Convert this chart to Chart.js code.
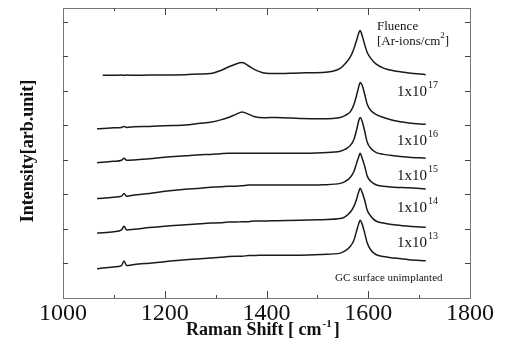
<!DOCTYPE html>
<html>
<head>
<meta charset="utf-8">
<script src="https://cdn.jsdelivr.net/npm/chart.js@4.4.1/dist/chart.umd.min.js"></script>
<style>
	html, body { margin: 0; padding: 0; background: #fff; }
	#wrap { width: 507px; height: 351px; }
</style>
</head>
<body>
<div id="wrap"><canvas id="ramanChart"></canvas></div>
<script>
// Raman shift (cm-1) sample positions shared by all spectra
const ramanShift = [1067, 1078, 1100, 1115, 1120, 1125, 1140, 1170, 1200, 1240, 1270, 1290, 1310, 1325,
	1340, 1352, 1365, 1375, 1395, 1420, 1466, 1510, 1545, 1555, 1565, 1572, 1577, 1581, 1584, 1588,
	1593, 1598, 1605, 1615, 1630, 1650, 1680, 1713];

// Stacked spectra (arb. units, already offset as in the figure)
const fluence1e17 = [null, 6.45, 6.45, 6.46, 6.45, 6.46, 6.45, 6.46, 6.46, 6.47, 6.49, 6.50, 6.59, 6.69,
	6.78, 6.82, 6.72, 6.63, 6.52, 6.50, 6.52, 6.53, 6.65, 6.79, 6.99, 7.23, 7.46, 7.66, 7.75, 7.60,
	7.34, 7.11, 6.94, 6.78, 6.66, 6.58, 6.52, 6.47];
const fluence1e16 = [4.90, 4.91, 4.93, 4.94, 4.97, 4.94, 4.96, 4.97, 4.99, 5.01, 5.06, 5.09, 5.16, 5.23,
	5.32, 5.39, 5.32, 5.26, 5.22, 5.23, 5.20, 5.19, 5.23, 5.29, 5.40, 5.61, 5.87, 6.10, 6.24, 6.16,
	5.90, 5.61, 5.43, 5.32, 5.23, 5.14, 5.07, 5.03];
const fluence1e15 = [3.92, 3.93, 3.96, 3.99, 4.05, 3.99, 4.00, 4.03, 4.08, 4.12, 4.15, 4.16, 4.18, 4.19,
	4.19, 4.19, 4.19, 4.19, 4.19, 4.19, 4.19, 4.21, 4.25, 4.31, 4.42, 4.60, 4.86, 5.12, 5.23, 5.12,
	4.83, 4.51, 4.34, 4.22, 4.16, 4.12, 4.08, 4.05];
const fluence1e14 = [2.88, 2.89, 2.92, 2.95, 3.03, 2.95, 2.98, 3.03, 3.09, 3.15, 3.18, 3.21, 3.22, 3.24,
	3.24, 3.25, 3.27, 3.27, 3.27, 3.27, 3.27, 3.28, 3.32, 3.38, 3.50, 3.67, 3.90, 4.08, 4.19, 4.05,
	3.82, 3.53, 3.38, 3.28, 3.24, 3.21, 3.19, 3.16];
const fluence1e13 = [1.88, 1.89, 1.92, 1.97, 2.08, 1.97, 1.99, 2.04, 2.08, 2.12, 2.15, 2.17, 2.18, 2.20,
	2.20, 2.21, 2.21, 2.23, 2.23, 2.24, 2.25, 2.27, 2.30, 2.36, 2.49, 2.66, 2.86, 3.06, 3.18, 3.06,
	2.83, 2.54, 2.37, 2.23, 2.17, 2.12, 2.08, 2.05];
const unimplanted = [0.85, 0.87, 0.90, 0.94, 1.07, 0.94, 0.97, 1.01, 1.05, 1.11, 1.14, 1.16, 1.18, 1.20,
	1.21, 1.21, 1.23, 1.23, 1.24, 1.24, 1.24, 1.26, 1.30, 1.37, 1.50, 1.68, 1.94, 2.14, 2.25, 2.14,
	1.88, 1.59, 1.39, 1.26, 1.20, 1.16, 1.11, 1.08];

const xTickLabels = ['1000', '1200', '1400', '1600', '1800'];
const fluenceExponents = ['17', '16', '15', '14', '13'];

const serif = '"Liberation Serif", "DejaVu Serif", serif';

function toPoints(values) {
	return ramanShift.map((x, i) => ({x: x, y: values[i]}));
}

// Frame, inward ticks and all text are drawn here through the chart's own scales
const framePlugin = {
	id: 'frame',
	afterDraw(chart) {
		const {ctx, chartArea: a, scales: {x, y}} = chart;
		ctx.save();

		ctx.strokeStyle = '#777';
		ctx.lineWidth = 1;
		ctx.strokeRect(a.left + 0.5, a.top + 0.5, a.right - a.left, a.bottom - a.top);

		// x ticks on bottom and top
		ctx.strokeStyle = '#444';
		for (let v = 1100; v < 1800; v += 100) {
			const px = Math.round(x.getPixelForValue(v)) + 0.5;
			const len = v % 200 === 0 ? 7 : 3;
			ctx.beginPath();
			ctx.moveTo(px, a.bottom);
			ctx.lineTo(px, a.bottom - len);
			ctx.moveTo(px, a.top);
			ctx.lineTo(px, a.top + len);
			ctx.stroke();
		}
		// y ticks on left and right
		for (let v = 1; v <= 8; v++) {
			const py = Math.round(y.getPixelForValue(v)) + 0.5;
			ctx.beginPath();
			ctx.moveTo(a.left, py);
			ctx.lineTo(a.left + 5, py);
			ctx.moveTo(a.right, py);
			ctx.lineTo(a.right - 5, py);
			ctx.stroke();
		}

		ctx.fillStyle = '#111';
		ctx.textAlign = 'center';
		ctx.textBaseline = 'alphabetic';
		ctx.font = '24px ' + serif;
		xTickLabels.forEach(t => {
			ctx.fillText(t, x.getPixelForValue(+t), 320);
		});

		// x axis title with superscript
		ctx.textAlign = 'left';
		ctx.font = 'bold 18px ' + serif;
		let tx = 186;
		const t1 = 'Raman Shift [ cm';
		ctx.fillText(t1, tx, 335);
		tx += ctx.measureText(t1).width + 1;
		ctx.font = 'bold 11px ' + serif;
		ctx.fillText('-1', tx, 327);
		tx += ctx.measureText('-1').width + 2;
		ctx.font = 'bold 18px ' + serif;
		ctx.fillText(']', tx, 335);

		// y axis title
		ctx.save();
		ctx.translate(33, 151);
		ctx.rotate(-Math.PI / 2);
		ctx.textAlign = 'center';
		ctx.font = 'bold 18px ' + serif;
		ctx.fillText('Intensity[arb.unit]', 0, 0);
		ctx.restore();

		// fluence header
		ctx.textAlign = 'left';
		ctx.font = '13px ' + serif;
		ctx.fillText('Fluence', 377, 30);
		const h1 = '[Ar-ions/cm';
		ctx.fillText(h1, 377, 45);
		let hx = 377 + ctx.measureText(h1).width;
		ctx.font = '9px ' + serif;
		ctx.fillText('2', hx, 38);
		hx += ctx.measureText('2').width;
		ctx.font = '13px ' + serif;
		ctx.fillText(']', hx, 45);

		// curve labels
		const labelY = [6.01, 4.57, 3.55, 2.63, 1.62];
		fluenceExponents.forEach((e, i) => {
			const by = y.getPixelForValue(labelY[i]) + 5;
			ctx.font = '15px ' + serif;
			ctx.fillText('1x10', 397, by);
			const w = ctx.measureText('1x10').width;
			ctx.font = '10px ' + serif;
			ctx.fillText(e, 397 + w + 1, by - 8);
		});
		ctx.font = '11px ' + serif;
		ctx.fillText('GC surface unimplanted', 335, y.getPixelForValue(0.61) + 4);

		ctx.restore();
	}
};

const series = [fluence1e17, fluence1e16, fluence1e15, fluence1e14, fluence1e13, unimplanted];

new Chart(document.getElementById('ramanChart').getContext('2d'), {
	type: 'line',
	data: {
		datasets: series.map(s => ({
			data: toPoints(s),
			borderColor: '#1a1a1a',
			borderWidth: 1.5,
			pointRadius: 0,
			cubicInterpolationMode: 'monotone',
			fill: false
		}))
	},
	options: {
		responsive: true,
		maintainAspectRatio: false,
		animation: false,
		layout: {padding: {left: 63, right: 37, top: 8, bottom: 53}},
		plugins: {legend: {display: false}, tooltip: {enabled: false}},
		scales: {
			x: {type: 'linear', min: 1000, max: 1800, display: false},
			y: {type: 'linear', min: 0, max: 8.4, display: false}
		}
	},
	plugins: [framePlugin]
});
</script>
</body>
</html>
